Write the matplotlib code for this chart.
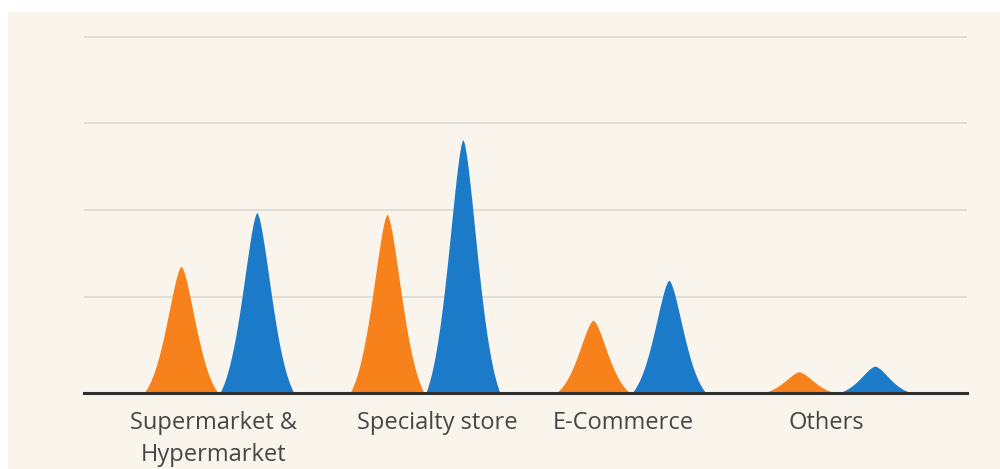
import numpy as np
import matplotlib.pyplot as plt
from matplotlib.patches import Rectangle

# data (y unit = one gridline step)
categories = ["Supermarket &\nHypermarket", "Specialty store", "E-Commerce", "Others"]
orange_values = [1.46, 2.06, 0.84, 0.245]
blue_values = [2.08, 2.92, 1.30, 0.31]
grid_levels = [1.11, 2.11, 3.11, 4.11]

ORANGE = "#f7821b"
BLUE = "#1b7bc9"
BG = "#f9f5ec"

# layout
PEAK_OFFSET = 0.184
HALF_WIDTH = 0.18
label_shift = [-0.027, 0.058, -0.039, -0.053]


def draw_peak(ax, center, height, color, half_width=HALF_WIDTH, n=300):
    # bell shaped peak (generalised gaussian), brought down to zero at +-half_width
    u = np.linspace(-1, 1, n)
    f = np.exp(-(np.abs(u) / 0.58) ** 1.6)
    f0 = np.exp(-(1 / 0.58) ** 1.6)
    shape = (f - f0) / (1 - f0)
    ax.fill_between(center + u * half_width, 0, height * shape,
                    color=color, lw=0, zorder=3)


fig = plt.figure(figsize=(10, 4.69), dpi=100, facecolor="white")
# cream panel, leaves a thin white strip on top and left
fig.patches.append(Rectangle((8 / 1000, 0), 1 - 8 / 1000, 1 - 12 / 469,
                             transform=fig.transFigure, facecolor=BG,
                             edgecolor="none", zorder=-10))

ax = fig.add_axes([0.084, (469 - 393) / 469, 0.883, 4.2 * 86.7 / 469])
ax.set_facecolor("none")

x = np.arange(len(categories))
for i in x:
    draw_peak(ax, i - PEAK_OFFSET, orange_values[i], ORANGE)
    draw_peak(ax, i + PEAK_OFFSET, blue_values[i], BLUE)

for g in grid_levels:
    ax.axhline(g, color="#dedbd3", lw=1.3, zorder=1)

ax.set_xlim(-0.655, 3.631)
ax.set_ylim(0, 4.2)

for side in ["top", "right", "left"]:
    ax.spines[side].set_visible(False)
ax.spines["bottom"].set_color("#2e2e2e")
ax.spines["bottom"].set_linewidth(2.2)
ax.spines["bottom"].set_zorder(4)

ax.set_yticks([])
ax.set_xticks(x + np.array(label_shift))
ax.set_xticklabels(categories, fontsize=17, color="#464646",
                   family="Open Sans", linespacing=1.45)
ax.tick_params(axis="x", length=0, pad=13)

fig.savefig("out.png", dpi=100, facecolor=fig.get_facecolor())
